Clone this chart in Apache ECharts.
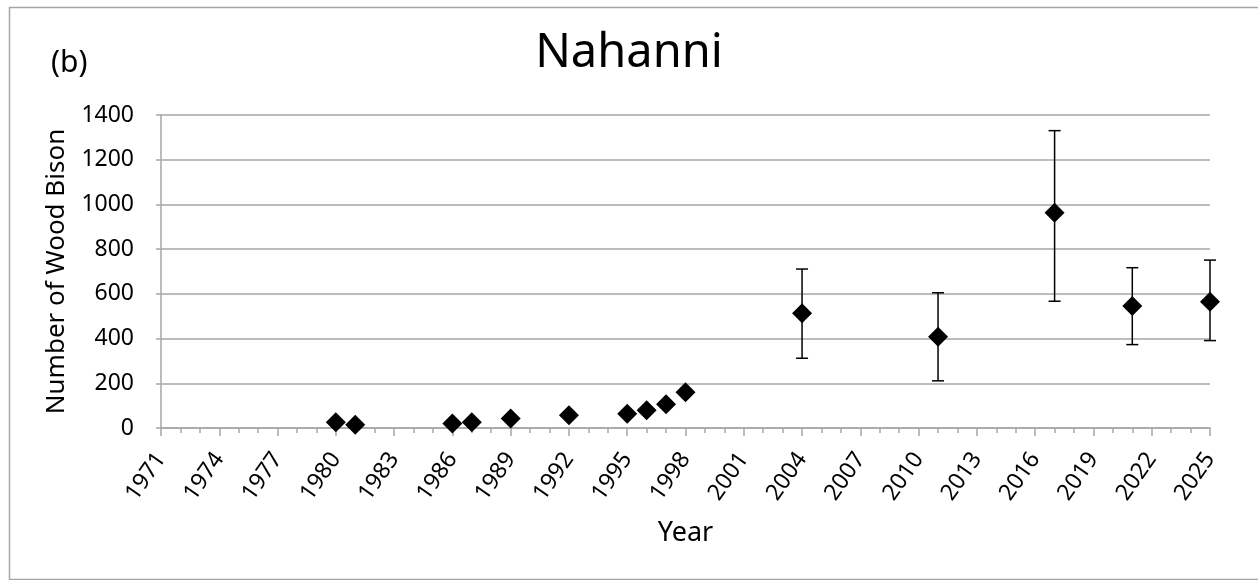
<!DOCTYPE html>
<html>
<head>
<meta charset="utf-8">
<script src="https://cdn.jsdelivr.net/npm/echarts@6/dist/echarts.min.js"></script>
<style>
html,body{margin:0;padding:0;background:#fff;}
#chart{width:1258px;height:580px;}
</style>
</head>
<body>
<div id="chart"></div>
<script>
// Data
var years  = [1980, 1981, 1986, 1987, 1989, 1992, 1995, 1996, 1997, 1998, 2004, 2011, 2017, 2021, 2025];
var counts = [26, 15, 20, 26, 42, 57, 64, 79, 106, 160, 513, 408, 963, 546, 565];
var lowerCI = [null, null, null, null, null, null, null, null, null, null, 312, 211, 567, 373, 391];
var upperCI = [null, null, null, null, null, null, null, null, null, null, 711, 605, 1330, 717, 751];
var xMin = 1971, xMax = 2025, xStep = 3;
var yMin = 0, yMax = 1400, yStep = 200;

var FONT = '"Noto Sans", "Open Sans", sans-serif';

var pointData = years.map(function (y, i) { return [y, counts[i]]; });
var errData = [];
years.forEach(function (y, i) {
  if (lowerCI[i] != null && upperCI[i] != null) errData.push([y, lowerCI[i], upperCI[i]]);
});

var chart = echarts.init(document.getElementById('chart'), null, {renderer: 'canvas'});
chart.setOption({
  backgroundColor: '#fff',
  animation: false,
  title: {
    text: 'Nahanni',
    left: 'center',
    top: 25,
    textStyle: {fontFamily: FONT, fontSize: 47, fontWeight: 'normal', color: '#000'}
  },
  graphic: [
    {type: 'rect', left: 7, top: 5, shape: {width: 1250, height: 572},
     style: {fill: 'none', stroke: '#a6a6a6', lineWidth: 1.5}, silent: true, z: -1},
    {type: 'text', left: 51, top: 48,
     style: {text: '(b)', font: '30px ' + FONT, fill: '#000'}}
  ],
  grid: {left: 161, right: 48, top: 115, bottom: 152, containLabel: false},
  xAxis: {
    type: 'value', min: xMin, max: xMax, interval: xStep,
    name: 'Year', nameLocation: 'middle', nameGap: 92,
    nameTextStyle: {fontFamily: FONT, fontSize: 27, color: '#000'},
    axisLine: {show: true, lineStyle: {color: '#a6a6a6', width: 1.5}},
    axisTick: {show: true, length: 8, lineStyle: {color: '#a6a6a6', width: 1.5}},
    minorTick: {show: true, splitNumber: 3, length: 5, lineStyle: {color: '#a6a6a6', width: 1.5}},
    splitLine: {show: false},
    axisLabel: {
      rotate: 55, margin: 27, color: '#000', fontFamily: FONT, fontSize: 23,
      formatter: function (v) { return String(v); }
    }
  },
  yAxis: {
    type: 'value', min: yMin, max: yMax, interval: yStep,
    name: 'Number of Wood Bison', nameLocation: 'middle', nameGap: 91,
    nameTextStyle: {fontFamily: FONT, fontSize: 26, color: '#000'},
    axisLine: {show: true, lineStyle: {color: '#a6a6a6', width: 1.5}},
    axisTick: {show: true, length: 5, lineStyle: {color: '#a6a6a6', width: 1.5}},
    splitLine: {show: true, lineStyle: {color: '#a6a6a6', width: 1.5}},
    axisLabel: {margin: 27, color: '#000', fontFamily: FONT, fontSize: 23,
      formatter: function (v) { return String(v); }}
  },
  series: [
    {
      type: 'custom',
      data: errData,
      z: 2,
      renderItem: function (params, api) {
        var x = api.value(0);
        var lo = api.coord([x, api.value(1)]);
        var hi = api.coord([x, api.value(2)]);
        var hw = 6;
        var st = {stroke: '#000', lineWidth: 1.5, fill: 'none'};
        return {
          type: 'group',
          children: [
            {type: 'line', shape: {x1: lo[0], y1: lo[1], x2: hi[0], y2: hi[1]}, style: st},
            {type: 'line', shape: {x1: hi[0] - hw, y1: hi[1], x2: hi[0] + hw, y2: hi[1]}, style: st},
            {type: 'line', shape: {x1: lo[0] - hw, y1: lo[1], x2: lo[0] + hw, y2: lo[1]}, style: st}
          ]
        };
      }
    },
    {
      type: 'scatter',
      data: pointData,
      symbol: 'diamond',
      symbolSize: [20, 20],
      clip: false,
      z: 3,
      itemStyle: {color: '#000', opacity: 1}
    }
  ]
});
</script>
</body>
</html>
